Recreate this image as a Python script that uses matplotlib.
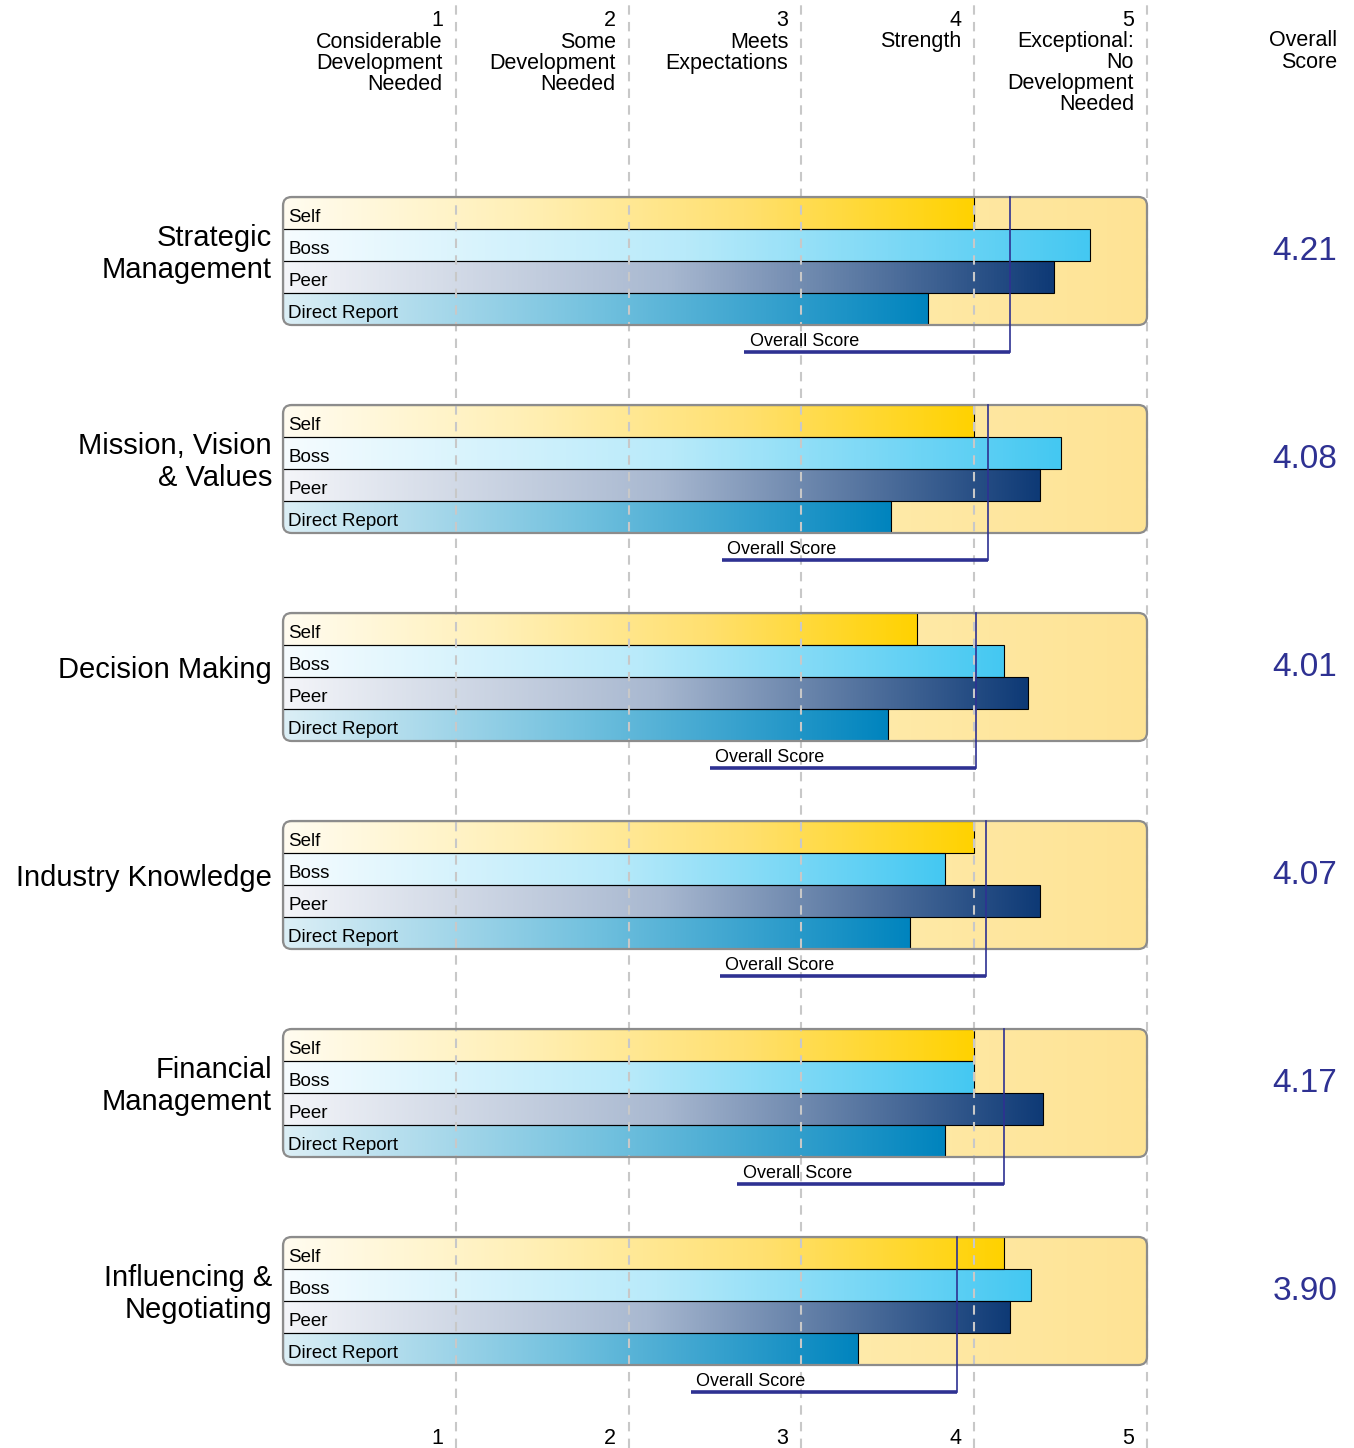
import numpy as np
import matplotlib
matplotlib.use("Agg")
import matplotlib.pyplot as plt
from matplotlib.colors import LinearSegmentedColormap
from matplotlib.patches import FancyBboxPatch

plt.rcParams['font.family'] = ['Liberation Sans', 'DejaVu Sans']

# Competency ratings on a 1-5 scale
competencies = [["Strategic", "Management"],
                ["Mission, Vision", "& Values"],
                ["Decision Making"],
                ["Industry Knowledge"],
                ["Financial", "Management"],
                ["Influencing &", "Negotiating"]]
raters = ["Self", "Boss", "Peer", "Direct Report"]
self_scores = [4.00, 4.00, 3.67, 4.00, 4.00, 4.17]
boss_scores = [4.67, 4.50, 4.17, 3.83, 4.00, 4.33]
peer_scores = [4.46, 4.38, 4.31, 4.38, 4.40, 4.21]
direct_scores = [3.73, 3.52, 3.50, 3.63, 3.83, 3.33]
overall_scores = [4.21, 4.08, 4.01, 4.07, 4.17, 3.90]

scale_labels = [["1", "Considerable", "Development", "Needed"],
                ["2", "Some", "Development", "Needed"],
                ["3", "Meets", "Expectations"],
                ["4", "Strength"],
                ["5", "Exceptional:", "No", "Development", "Needed"]]

# gradient colours for each rater (light -> saturated)
rater_cmaps = [
    LinearSegmentedColormap.from_list("self", ["#FFFCF0", "#FFF0B8", "#FFE070", "#FFD200"]),
    LinearSegmentedColormap.from_list("boss", ["#F6FCFF", "#B8EAFA", "#44C8F2"]),
    LinearSegmentedColormap.from_list("peer", ["#F4F5F9", "#A8B8D0", "#0E3A76"]),
    LinearSegmentedColormap.from_list("direct", ["#DCEFF6", "#70C0DE", "#0084BE"]),
]
bg_cmap = LinearSegmentedColormap.from_list("bg", ["#FFF5CF", "#FFEEB5", "#FEE394"])
score_color = "#2E3192"

W, H = 1354, 1448
px_per_unit = 172.8
x0_px = 283

fig = plt.figure(figsize=(W / 100, H / 100), dpi=100)
ax = fig.add_axes([0, 0, 1, 1])
ax.set_xlim(-x0_px / px_per_unit, (W - x0_px) / px_per_unit)
ax.set_ylim(H, 0)
ax.axis('off')

first_top = 197
group_step = 208
row_h = 32
box_h = row_h * len(raters)
grad = np.linspace(0, 1, 256).reshape(1, -1)

all_scores = [self_scores, boss_scores, peer_scores, direct_scores]

for g, name_lines in enumerate(competencies):
    top = first_top + g * group_step

    # background panel with rounded corners
    panel = FancyBboxPatch((0, top), 5, box_h,
                           boxstyle="round,pad=0,rounding_size=0.05",
                           mutation_aspect=px_per_unit,
                           facecolor='none', edgecolor='none', zorder=1)
    ax.add_patch(panel)
    bg = ax.imshow(grad, cmap=bg_cmap, aspect='auto',
                   extent=(0, 5, top + box_h, top), zorder=1)
    bg.set_clip_path(panel)

    # rater bars with gradient fill
    ys = [top + row_h * (r + 0.5) for r in range(len(raters))]
    vals = [all_scores[r][g] for r in range(len(raters))]
    bars = ax.barh(ys, vals, height=row_h, left=0, facecolor='none',
                   edgecolor='black', linewidth=0.8, zorder=3)
    for r, bar in enumerate(bars):
        bar.set_clip_path(panel)
        im = ax.imshow(grad, cmap=rater_cmaps[r], aspect='auto',
                       extent=(bar.get_x(), bar.get_x() + bar.get_width(),
                               bar.get_y() + bar.get_height(), bar.get_y()),
                       zorder=2)
        im.set_clip_path(panel)
        ax.text(0.03, ys[r] + 4, raters[r], fontsize=13.5, va='center',
                ha='left', zorder=6)

    # panel border
    border = FancyBboxPatch((0, top), 5, box_h,
                            boxstyle="round,pad=0,rounding_size=0.05",
                            mutation_aspect=px_per_unit,
                            facecolor='none', edgecolor='#8C8C8C',
                            linewidth=1.6, zorder=5)
    ax.add_patch(border)

    # overall score marker
    ov = overall_scores[g]
    line_y = top + 155
    ax.plot([ov, ov], [top, line_y], color=score_color, lw=1.2, zorder=7)
    ax.plot([ov - 1.54, ov], [line_y, line_y], color=score_color, lw=2.6,
            solid_capstyle='butt', zorder=7)
    ax.text(ov - 1.51, top + 144, "Overall Score", fontsize=13,
            ha='left', va='center', zorder=7)

    # competency name and overall value
    n = len(name_lines)
    for i, line in enumerate(name_lines):
        ax.text(-0.064, top + 57 + (i - (n - 1) / 2) * 32, line,
                fontsize=21, ha='right', va='center')
    ax.text(6.10, top + 54, f"{ov:.2f}", fontsize=24, color=score_color,
            ha='right', va='center')

# dashed reference lines at each scale point
for v in range(1, 6):
    ax.axvline(v, color='#C8C8C8', lw=1.5, linestyle=(0, (4.5, 3.5)), zorder=4)

# scale headers and bottom tick labels
for v, lines in enumerate(scale_labels, start=1):
    for i, line in enumerate(lines):
        ax.text(v - 0.075, 21 + 21 * i, line, fontsize=15.5,
                ha='right', va='center')
    ax.text(v - 0.075, 1438, str(v), fontsize=15.5, ha='right', va='center')

for i, line in enumerate(["Overall", "Score"]):
    ax.text(6.10, 41 + 22 * i, line, fontsize=15.5, ha='right', va='center')

fig.savefig("out.png", dpi=100, facecolor='white')
